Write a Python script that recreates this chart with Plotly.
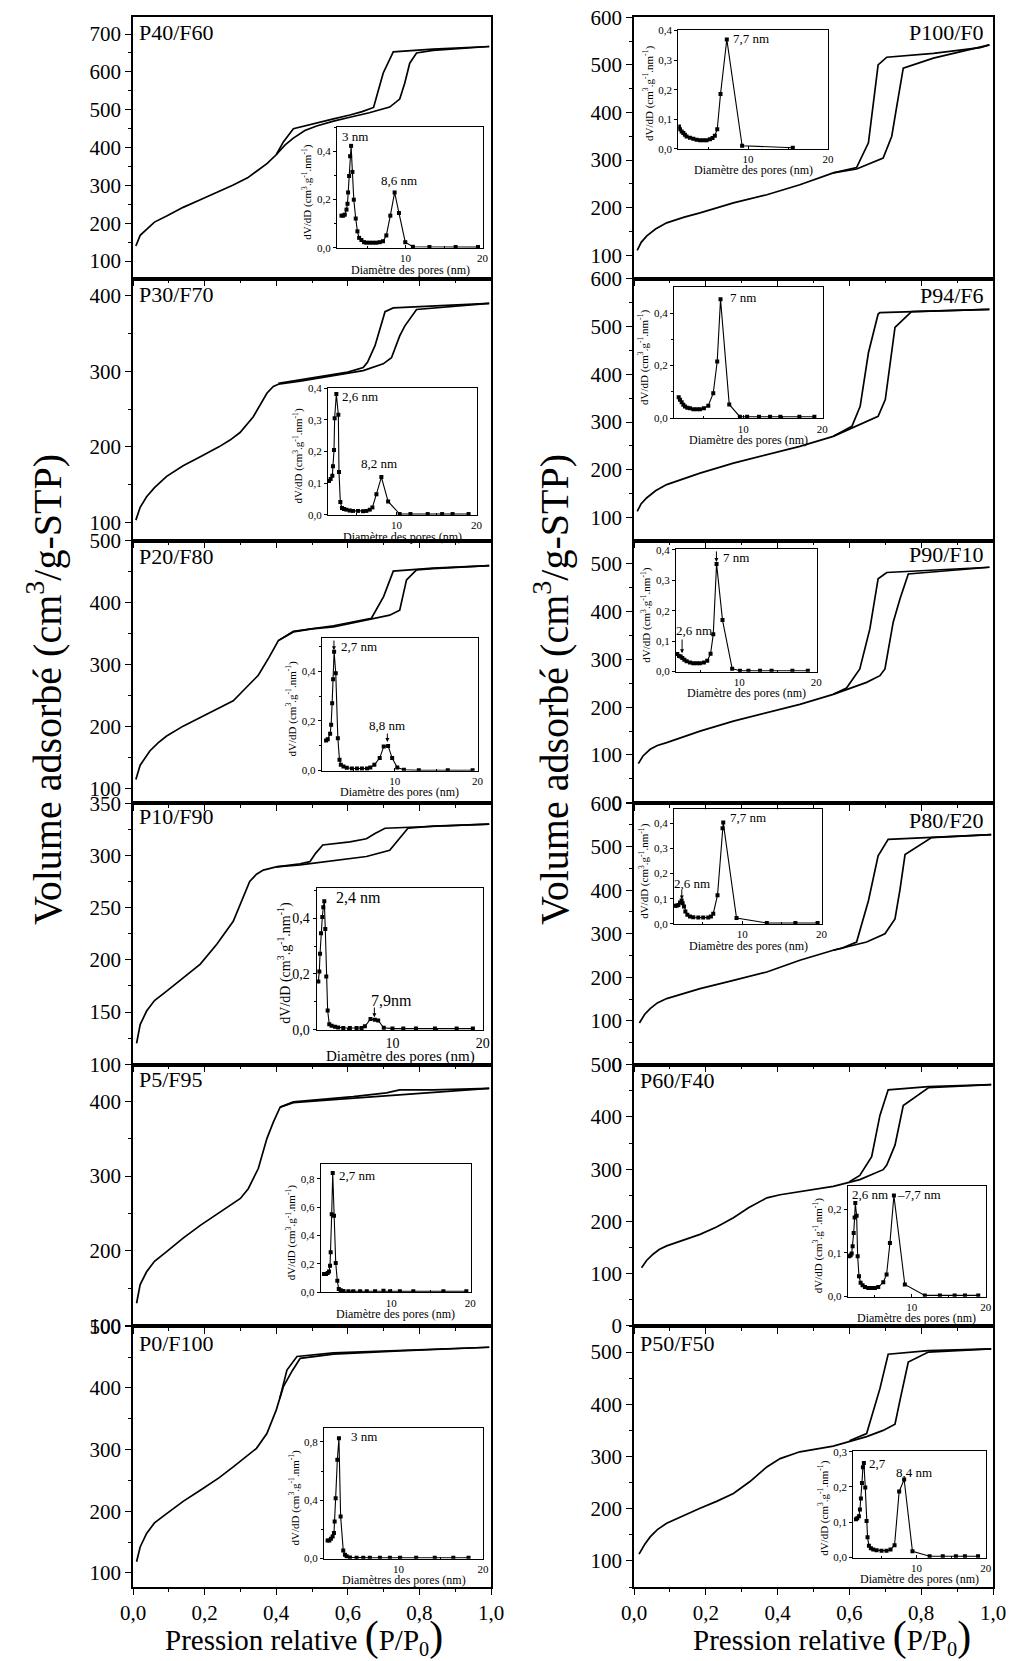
import plotly.graph_objects as go

# ------------------------------------------------------------------ data
# Isotherms: relative pressure (P/P0) and adsorbed volume (cm3/g STP)
P40F60_ads_p = [0.008, 0.02, 0.038, 0.06, 0.094, 0.14, 0.188, 0.24, 0.28, 0.32, 0.345, 0.375, 0.40, 0.425, 0.448, 0.48, 0.513, 0.56, 0.606, 0.66, 0.717, 0.745, 0.759, 0.773, 0.792, 0.838, 0.995]
P40F60_ads_v = [140, 168, 184, 203, 219, 242, 262, 283, 301, 320, 337, 358, 381, 407, 425, 445, 457, 470, 480, 492, 507, 528, 570, 623, 650, 657, 667]
P40F60_des_p = [0.995, 0.838, 0.727, 0.713, 0.699, 0.685, 0.672, 0.64, 0.606, 0.56, 0.513, 0.48, 0.448, 0.42, 0.40]
P40F60_des_v = [667, 660, 653, 625, 597, 550, 506, 495, 486, 476, 465, 458, 450, 415, 381]

P30F70_ads_p = [0.008, 0.02, 0.038, 0.06, 0.094, 0.14, 0.188, 0.24, 0.271, 0.299, 0.336, 0.374, 0.392, 0.406, 0.467, 0.56, 0.643, 0.699, 0.722, 0.745, 0.759, 0.792, 0.838, 0.995]
P30F70_ads_v = [103, 120, 134, 146, 161, 175, 187, 200, 209, 219, 240, 271, 280, 283, 287, 294, 301, 310, 318, 347, 360, 382, 384, 390]
P30F70_des_p = [0.995, 0.838, 0.727, 0.704, 0.69, 0.676, 0.655, 0.643, 0.6, 0.56, 0.467, 0.406]
P30F70_des_v = [390, 386, 384, 379, 355, 334, 312, 305, 299, 296, 289, 284]

P20F80_ads_p = [0.008, 0.02, 0.047, 0.07, 0.094, 0.14, 0.188, 0.24, 0.28, 0.326, 0.35, 0.38, 0.406, 0.448, 0.5, 0.56, 0.652, 0.717, 0.745, 0.755, 0.764, 0.792, 0.838, 0.995]
P20F80_ads_v = [115, 138, 161, 174, 185, 201, 215, 230, 242, 269, 283, 312, 339, 353, 358, 361, 372, 380, 388, 415, 437, 453, 455, 460]
P20F80_des_p = [0.995, 0.838, 0.727, 0.70, 0.666, 0.6, 0.56, 0.448, 0.406]
P20F80_des_v = [460, 456, 451, 410, 375, 367, 363, 354, 339]

P10F90_ads_p = [0.010, 0.02, 0.038, 0.06, 0.094, 0.14, 0.188, 0.234, 0.28, 0.326, 0.345, 0.364, 0.40, 0.467, 0.56, 0.652, 0.717, 0.745, 0.768, 0.838, 0.995]
P10F90_ads_v = [120, 138, 151, 161, 170, 183, 196, 215, 237, 275, 282, 286, 289, 291, 295, 299, 305, 317, 326, 328, 330]
P10F90_des_p = [0.995, 0.838, 0.704, 0.676, 0.652, 0.606, 0.53, 0.51, 0.494, 0.467, 0.40]
P10F90_des_v = [330, 328, 326, 321, 316, 313, 310, 302, 294, 292, 289]

P5F95_ads_p = [0.010, 0.02, 0.038, 0.06, 0.094, 0.14, 0.188, 0.24, 0.3, 0.322, 0.35, 0.374, 0.392, 0.411, 0.448, 0.56, 0.699, 0.745, 0.838, 0.995]
P5F95_ads_v = [130, 155, 172, 186, 199, 217, 234, 251, 270, 283, 310, 350, 372, 392, 398, 402, 407, 408, 412, 417]
P5F95_des_p = [0.995, 0.838, 0.745, 0.708, 0.615, 0.448, 0.411]
P5F95_des_v = [417, 415, 415, 411, 406, 399, 392]

P0F100_ads_p = [0.010, 0.02, 0.038, 0.06, 0.094, 0.14, 0.188, 0.24, 0.28, 0.345, 0.374, 0.40, 0.42, 0.445, 0.467, 0.56, 0.745, 0.995]
P0F100_ads_v = [118, 142, 164, 181, 196, 216, 234, 254, 272, 302, 326, 364, 402, 428, 448, 455, 460, 466]
P0F100_des_p = [0.995, 0.745, 0.56, 0.458, 0.43, 0.41]
P0F100_des_v = [466, 461, 457, 451, 429, 383]

P100F0_ads_p = [0.009, 0.02, 0.035, 0.06, 0.091, 0.14, 0.184, 0.277, 0.37, 0.462, 0.555, 0.62, 0.694, 0.718, 0.732, 0.75, 0.834, 0.927, 0.99]
P100F0_ads_v = [110, 127, 140, 155, 168, 180, 189, 210, 227, 248, 273, 281, 304, 350, 413, 493, 514, 531, 542]
P100F0_des_p = [0.99, 0.964, 0.834, 0.704, 0.68, 0.653, 0.62, 0.58, 0.555]
P100F0_des_v = [542, 536, 524, 516, 500, 336, 284, 277, 273]

P94F6_ads_p = [0.009, 0.02, 0.035, 0.06, 0.091, 0.14, 0.184, 0.277, 0.37, 0.462, 0.555, 0.648, 0.68, 0.70, 0.727, 0.773, 0.99]
P94F6_ads_v = [113, 129, 141, 156, 169, 182, 193, 214, 232, 249, 270, 302, 312, 347, 498, 531, 536]
P94F6_des_p = [0.99, 0.80, 0.685, 0.68, 0.653, 0.63, 0.607, 0.58, 0.555]
P94F6_des_v = [536, 532, 529, 526, 445, 333, 291, 280, 270]

P90F10_ads_p = [0.012, 0.025, 0.045, 0.065, 0.091, 0.14, 0.184, 0.277, 0.37, 0.462, 0.555, 0.648, 0.685, 0.699, 0.722, 0.741, 0.764, 0.85, 0.99]
P90F10_ads_v = [82, 98, 112, 120, 126, 139, 150, 171, 189, 206, 227, 252, 266, 280, 378, 427, 479, 484, 493]
P90F10_des_p = [0.99, 0.80, 0.704, 0.68, 0.657, 0.629, 0.592, 0.555]
P90F10_des_v = [493, 485, 482, 469, 364, 280, 240, 227]

P80F20_ads_p = [0.015, 0.03, 0.045, 0.065, 0.091, 0.14, 0.184, 0.277, 0.37, 0.462, 0.555, 0.648, 0.699, 0.727, 0.741, 0.755, 0.829, 0.995]
P80F20_ads_v = [95, 115, 128, 141, 151, 164, 174, 193, 212, 239, 262, 281, 300, 334, 402, 482, 521, 528]
P80F20_des_p = [0.995, 0.85, 0.708, 0.68, 0.653, 0.62, 0.58, 0.555]
P80F20_des_v = [528, 522, 517, 479, 376, 281, 267, 262]

P60F40_ads_p = [0.021, 0.035, 0.053, 0.07, 0.091, 0.14, 0.184, 0.23, 0.277, 0.319, 0.37, 0.407, 0.462, 0.555, 0.629, 0.694, 0.704, 0.727, 0.75, 0.82, 0.995]
P60F40_ads_v = [111, 125, 137, 146, 153, 165, 175, 189, 207, 226, 245, 251, 257, 267, 280, 299, 308, 346, 422, 456, 462]
P60F40_des_p = [0.995, 0.82, 0.708, 0.685, 0.662, 0.629, 0.6]
P60F40_des_v = [462, 458, 452, 403, 324, 288, 276]

P50F50_ads_p = [0.014, 0.03, 0.045, 0.065, 0.091, 0.14, 0.184, 0.23, 0.277, 0.323, 0.37, 0.407, 0.462, 0.555, 0.648, 0.694, 0.727, 0.741, 0.764, 0.82, 0.995]
P50F50_ads_v = [113, 132, 146, 160, 172, 188, 201, 214, 229, 252, 280, 296, 309, 320, 338, 350, 362, 408, 481, 500, 506]
P50F50_des_p = [0.995, 0.82, 0.708, 0.685, 0.648, 0.6]
P50F50_des_v = [506, 503, 496, 430, 344, 330]

# Pore size distributions: pore diameter (nm) and dV/dD
P40F60_psd_d = [1.68, 1.9, 2.11, 2.33, 2.46, 2.54, 2.67, 2.80, 2.93, 3.10, 3.28, 3.53, 3.75, 3.97, 4.27, 4.61, 4.91, 5.34, 5.78, 6.21, 6.64, 7.07, 7.5, 8.02, 8.58, 9.14, 9.96, 10.95, 13.1, 16.5, 19.4]
P40F60_psd_y = [0.133, 0.133, 0.137, 0.158, 0.182, 0.229, 0.297, 0.379, 0.422, 0.314, 0.199, 0.121, 0.068, 0.041, 0.032, 0.023, 0.021, 0.021, 0.021, 0.021, 0.023, 0.027, 0.051, 0.133, 0.229, 0.144, 0.023, 0.004, 0.003, 0.003, 0.003]

P30F70_psd_d = [1.58, 1.79, 2.0, 2.08, 2.21, 2.29, 2.5, 2.75, 2.83, 3.0, 3.2, 3.46, 3.75, 4.17, 4.58, 5.2, 5.83, 6.25, 6.67, 7.0, 7.5, 8.12, 8.96, 10.4, 11.75, 13.9, 15.7, 17.0, 19.0]
P30F70_psd_y = [0.107, 0.113, 0.123, 0.153, 0.205, 0.305, 0.382, 0.316, 0.135, 0.04, 0.021, 0.018, 0.016, 0.013, 0.012, 0.012, 0.011, 0.012, 0.016, 0.023, 0.065, 0.119, 0.042, 0.002, 0.002, 0.002, 0.002, 0.002, 0.002]

P20F80_psd_d = [1.7, 1.9, 2.19, 2.31, 2.43, 2.55, 2.67, 2.87, 3.12, 3.32, 3.48, 3.8, 4.2, 4.82, 5.43, 6.03, 6.64, 7.04, 7.53, 8.18, 8.66, 9.19, 9.68, 10.3, 11.1, 12.9, 16.4, 19.4]
P20F80_psd_y = [0.121, 0.126, 0.148, 0.184, 0.271, 0.368, 0.479, 0.392, 0.13, 0.043, 0.023, 0.016, 0.011, 0.008, 0.008, 0.008, 0.008, 0.012, 0.023, 0.05, 0.097, 0.099, 0.05, 0.012, 0.003, 0.001, 0.001, 0.001]

P10F90_psd_d = [1.8, 1.91, 1.99, 2.1, 2.24, 2.35, 2.46, 2.57, 2.68, 2.83, 3.01, 3.27, 3.64, 4.0, 4.56, 5.29, 6.03, 6.58, 6.95, 7.57, 8.05, 8.42, 9.04, 10.0, 11.2, 12.6, 14.7, 17.1, 18.9]
P10F90_psd_y = [0.173, 0.209, 0.272, 0.346, 0.404, 0.439, 0.461, 0.361, 0.191, 0.069, 0.02, 0.014, 0.011, 0.008, 0.006, 0.006, 0.006, 0.006, 0.012, 0.038, 0.036, 0.033, 0.007, 0.004, 0.004, 0.004, 0.004, 0.004, 0.004]

P5F95_psd_d = [1.52, 1.77, 1.98, 2.15, 2.28, 2.36, 2.49, 2.62, 2.78, 3.0, 3.2, 3.38, 3.63, 3.97, 4.6, 5.23, 6.08, 6.92, 7.97, 9.03, 9.87, 11.1, 12.8, 16.6, 19.5]
P5F95_psd_y = [0.127, 0.127, 0.134, 0.146, 0.186, 0.282, 0.551, 0.842, 0.539, 0.205, 0.08, 0.021, 0.012, 0.007, 0.005, 0.005, 0.005, 0.005, 0.005, 0.009, 0.005, 0.005, 0.005, 0.005, 0.005]

P0F100_psd_d = [1.61, 1.81, 2.0, 2.2, 2.36, 2.44, 2.56, 2.76, 2.95, 3.15, 3.46, 3.66, 3.86, 4.25, 5.04, 5.83, 6.61, 7.8, 8.98, 10.2, 12.1, 14.3, 16.5, 18.3]
P0F100_psd_y = [0.123, 0.123, 0.135, 0.151, 0.174, 0.254, 0.414, 0.677, 0.825, 0.288, 0.055, 0.025, 0.014, 0.007, 0.005, 0.005, 0.005, 0.005, 0.005, 0.005, 0.005, 0.005, 0.005, 0.005]

P100F0_psd_d = [1.33, 1.46, 1.67, 1.88, 2.08, 2.29, 2.71, 3.13, 3.54, 3.96, 4.38, 4.79, 5.21, 5.54, 5.83, 6.13, 6.54, 7.33, 9.25, 15.6]
P100F0_psd_y = [0.075, 0.066, 0.058, 0.053, 0.047, 0.041, 0.037, 0.034, 0.03, 0.029, 0.029, 0.029, 0.032, 0.036, 0.044, 0.066, 0.185, 0.37, 0.01, 0.003]

P94F6_psd_d = [1.85, 2.02, 2.23, 2.44, 2.65, 2.94, 3.28, 3.7, 4.12, 4.54, 5.04, 5.59, 6.22, 6.72, 7.14, 8.24, 9.58, 10.5, 12.0, 13.4, 14.7, 17.1, 19.0]
P94F6_psd_y = [0.079, 0.07, 0.06, 0.051, 0.044, 0.039, 0.037, 0.034, 0.034, 0.034, 0.037, 0.047, 0.095, 0.216, 0.453, 0.052, 0.005, 0.005, 0.005, 0.005, 0.005, 0.005, 0.005]

P90F10_psd_d = [1.98, 2.2, 2.41, 2.63, 2.89, 3.19, 3.62, 4.05, 4.48, 4.91, 5.43, 5.86, 6.29, 6.64, 7.07, 7.84, 9.09, 10.1, 11.2, 12.7, 14.2, 16.9, 18.9]
P90F10_psd_y = [0.057, 0.051, 0.049, 0.044, 0.038, 0.033, 0.029, 0.027, 0.027, 0.027, 0.029, 0.035, 0.058, 0.122, 0.354, 0.169, 0.009, 0.002, 0.002, 0.002, 0.002, 0.002, 0.002]

P80F20_psd_d = [1.55, 1.76, 1.97, 2.18, 2.38, 2.51, 2.68, 2.85, 3.1, 3.43, 3.85, 4.48, 5.1, 5.73, 6.07, 6.36, 6.9, 7.53, 7.62, 9.29, 13.1, 16.7, 19.5]
P80F20_psd_y = [0.072, 0.072, 0.075, 0.085, 0.093, 0.082, 0.069, 0.049, 0.036, 0.029, 0.026, 0.025, 0.025, 0.025, 0.029, 0.04, 0.114, 0.38, 0.403, 0.023, 0.003, 0.003, 0.003]

P60F40_psd_d = [1.53, 1.71, 1.85, 1.98, 2.12, 2.25, 2.34, 2.52, 2.66, 2.84, 3.06, 3.33, 3.65, 4.1, 4.55, 5.0, 5.45, 6.13, 6.58, 7.03, 7.57, 9.05, 11.76, 13.8, 15.8, 17.2, 19.0]
P60F40_psd_y = [0.092, 0.094, 0.098, 0.115, 0.145, 0.181, 0.214, 0.185, 0.092, 0.046, 0.031, 0.025, 0.021, 0.019, 0.019, 0.019, 0.021, 0.032, 0.05, 0.122, 0.231, 0.027, 0.002, 0.002, 0.002, 0.002, 0.002]

P50F50_psd_d = [1.25, 1.44, 1.68, 1.83, 1.97, 2.12, 2.26, 2.4, 2.6, 2.79, 2.93, 3.13, 3.41, 3.75, 4.23, 4.95, 5.67, 6.25, 6.83, 7.5, 8.22, 9.42, 11.9, 13.8, 15.7, 17.0, 18.9]
P50F50_psd_y = [0.108, 0.111, 0.117, 0.136, 0.167, 0.211, 0.256, 0.268, 0.198, 0.103, 0.057, 0.033, 0.026, 0.022, 0.02, 0.019, 0.019, 0.022, 0.034, 0.187, 0.221, 0.017, 0.003, 0.003, 0.003, 0.003, 0.003]

# ------------------------------------------------------------------ layout helpers
W, H = 1010, 1661
ROWS = [17, 278.5, 540.5, 803, 1064.5, 1326, 1587]
COLS = [(133, 491), (634, 993)]
FONT = "Liberation Serif, Times New Roman, serif"


def fx(px):
    return px / W


def fy(py):
    return 1 - py / H


# name, col, row, isotherm arrays, y-range, major dtick, minor dtick, label side, label y(px)
panels = [
    ("P40/F60", 0, 0, P40F60_ads_p, P40F60_ads_v, P40F60_des_p, P40F60_des_v, [54, 745], 100, 50, "left", 33),
    ("P30/F70", 0, 1, P30F70_ads_p, P30F70_ads_v, P30F70_des_p, P30F70_des_v, [76, 423], 100, 50, "left", 294),
    ("P20/F80", 0, 2, P20F80_ads_p, P20F80_ads_v, P20F80_des_p, P20F80_des_v, [77, 500.5], 100, 50, "left", 556),
    ("P10/F90", 0, 3, P10F90_ads_p, P10F90_ads_v, P10F90_des_p, P10F90_des_v, [99.8, 350.2], 50, 25, "left", 817),
    ("P5/F95", 0, 4, P5F95_ads_p, P5F95_ads_v, P5F95_des_p, P5F95_des_v, [99.6, 449], 100, 50, "left", 1079),
    ("P0/F100", 0, 5, P0F100_ads_p, P0F100_ads_v, P0F100_des_p, P0F100_des_v, [77, 500.5], 100, 50, "left", 1343),
    ("P100/F0", 1, 0, P100F0_ads_p, P100F0_ads_v, P100F0_des_p, P100F0_des_v, [51, 600.5], 100, 50, "right", 32),
    ("P94/F6", 1, 1, P94F6_ads_p, P94F6_ads_v, P94F6_des_p, P94F6_des_v, [52, 600.5], 100, 50, "right", 295),
    ("P90/F10", 1, 2, P90F10_ads_p, P90F10_ads_v, P90F10_des_p, P90F10_des_v, [-0.5, 549], 100, 50, "right", 555),
    ("P80/F20", 1, 3, P80F20_ads_p, P80F20_ads_v, P80F20_des_p, P80F20_des_v, [-0.5, 600.5], 100, 50, "right", 820),
    ("P60/F40", 1, 4, P60F40_ads_p, P60F40_ads_v, P60F40_des_p, P60F40_des_v, [-0.5, 500.5], 100, 50, "left", 1080),
    ("P50/F50", 1, 5, P50F50_ads_p, P50F50_ads_v, P50F50_des_p, P50F50_des_v, [50, 550], 100, 50, "left", 1343),
]

# inset: psd arrays, box (x0, x1, y0, y1 px), x-range, y-range, y dtick, y minor, x title, font size, labels, arrows
insets = [
    (P40F60_psd_d, P40F60_psd_y, (337, 483, 127, 248), [1.1, 20.05], [-0.001, 0.5], 0.2, 0.1,
     "Diamètre des pores (nm)", 11, [("3 nm", 3.4, 0.459, "center"), ("8,6 nm", 9.2, 0.278, "center")], []),
    (P30F70_psd_d, P30F70_psd_y, (328, 477, 387.7, 515), [1.46, 20.05], [-0.001, 0.402], 0.1, None,
     "Diamètre des pores (nm)", 11, [("2,6 nm", 2.9, 0.374, "left"), ("8,2 nm", 7.8, 0.161, "center")], []),
    (P20F80_psd_d, P20F80_psd_y, (321.7, 478, 638.3, 770.7), [1.17, 20.05], [-0.001, 0.533], 0.2, 0.1,
     "Diamètre des pores (nm)", 11, [("2,7 nm", 3.2, 0.50, "left"), ("8,8 nm", 9.07, 0.18, "center")],
     [(2.65, 0.485, 2.65, 0.53), (9.1, 0.115, 9.1, 0.155)]),
    (P10F90_psd_d, P10F90_psd_y, (316.7, 483.3, 888.3, 1030), [1.62, 20.05], [-0.001, 0.507], 0.2, 0.1,
     "Diamètre des pores (nm)", 14, [("2,4 nm", 6.25, 0.474, "center"), ("7,9nm", 9.85, 0.104, "center")],
     [(8.0, 0.045, 8.0, 0.085)]),
    (P5F95_psd_d, P5F95_psd_y, (320.7, 470.7, 1164.3, 1292.3), [1.1, 20.05], [-0.002, 0.904], 0.2, None,
     "Diamètre des pores (nm)", 11, [("2,7 nm", 3.2, 0.824, "left")], []),
    (P0F100_psd_d, P0F100_psd_y, (324, 483.3, 1427.7, 1558.7), [1.18, 20.05], [-0.002, 0.898], 0.4, 0.2,
     "Diamètres des pores (nm)", 11, [("3 nm", 4.17, 0.837, "left")], []),
    (P100F0_psd_d, P100F0_psd_y, (678.3, 828.3, 30, 149), [1.25, 20.05], [-0.001, 0.402], 0.1, None,
     "Diamètre des pores (nm)", 11, [("7,7 nm", 7.83, 0.372, "left")], []),
    (P94F6_psd_d, P94F6_psd_y, (674, 822.7, 287.3, 418.3), [1.26, 20.05], [-0.001, 0.499], 0.2, 0.1,
     "Diamètre des pores (nm)", 11, [("7 nm", 8.1, 0.461, "left")], []),
    (P90F10_psd_d, P90F10_psd_y, (676, 816.7, 549.3, 671.7), [1.81, 20.05], [-0.001, 0.402], 0.1, None,
     "Diamètre des pores (nm)", 11, [("7 nm", 7.6, 0.376, "left"), ("2,6 nm", 4.1, 0.136, "center")],
     [(7.05, 0.36, 7.05, 0.40), (2.6, 0.06, 2.6, 0.11)]),
    (P80F20_psd_d, P80F20_psd_y, (674, 822, 809.3, 924), [1.42, 20.05], [-0.001, 0.456], 0.1, None,
     "Diamètre des pores (nm)", 11, [("7,7 nm", 8.16, 0.424, "left"), ("2,6 nm", 3.73, 0.162, "center")],
     [(2.4, 0.097, 2.4, 0.14)]),
    (P60F40_psd_d, P60F40_psd_y, (847.7, 986, 1186, 1296.7), [1.31, 20.05], [-0.001, 0.253], 0.1, None,
     "Diamètre des pores (nm)", 11, [("2,6 nm", 1.62, 0.234, "left"), ("–7,7 nm", 7.7, 0.234, "left")], []),
    (P50F50_psd_d, P50F50_psd_y, (853.3, 986, 1451, 1557.7), [0.87, 20.05], [-0.001, 0.302], 0.1, None,
     "Diamètre des pores (nm)", 11, [("2,7", 2.79, 0.267, "left"), ("8,4 nm", 9.6, 0.242, "center")], []),
]

fig = go.Figure()
annotations = []
layout = {}

for i, (name, col, row, ap, av, dp, dv, yr, dt, mdt, side, ly) in enumerate(panels):
    n = i + 1
    xa, ya = f"x{n}", f"y{n}"
    for px_, vy_ in ((ap, av), (dp, dv)):
        fig.add_trace(go.Scatter(x=px_, y=vy_, xaxis=xa, yaxis=ya, mode="lines",
                                 line=dict(color="black", width=1.7), hoverinfo="skip"))
    x0, x1 = COLS[col]
    yt, yb = ROWS[row], ROWS[row + 1]
    layout[f"xaxis{n}"] = dict(
        domain=[fx(x0), fx(x1)], anchor=ya, range=[0, 1], tick0=0, dtick=0.2, automargin=False,
        tickformat=".1f", showticklabels=(row == 5), ticks="outside", ticklen=6,
        tickwidth=1.3, tickcolor="black", minor=dict(dtick=0.1, ticks="outside", ticklen=3, tickcolor="black"),
        showline=True, linecolor="black", linewidth=1.6, mirror=True, showgrid=False, zeroline=False,
        tickfont=dict(family=FONT, size=21, color="black"))
    layout[f"yaxis{n}"] = dict(
        domain=[fy(yb), fy(yt)], anchor=xa, range=yr, tick0=0, dtick=dt, automargin=False,
        ticks="outside", ticklen=6, tickwidth=1.3, tickcolor="black",
        minor=dict(dtick=mdt, ticks="outside", ticklen=3, tickcolor="black"),
        showline=True, linecolor="black", linewidth=1.6, mirror=True, showgrid=False, zeroline=False,
        tickfont=dict(family=FONT, size=21, color="black"))
    if side == "left":
        annotations.append(dict(text=name, xref="paper", yref="paper", x=fx(x0 + 4), y=fy(ly),
                                xanchor="left", yanchor="middle", showarrow=False,
                                font=dict(family=FONT, size=22, color="black")))
    else:
        annotations.append(dict(text=name, xref="paper", yref="paper", x=fx(x1 - 7), y=fy(ly),
                                xanchor="right", yanchor="middle", showarrow=False,
                                font=dict(family=FONT, size=22, color="black")))

for j, (dd, yy, box, xr, yr, ydt, ymin, xtitle, fs, labels, arrows) in enumerate(insets):
    n = 13 + j
    xa, ya = f"x{n}", f"y{n}"
    fig.add_trace(go.Scatter(x=dd, y=yy, xaxis=xa, yaxis=ya, mode="lines+markers",
                             line=dict(color="black", width=1.1),
                             marker=dict(symbol="square", size=4, color="black"), hoverinfo="skip"))
    bx0, bx1, by0, by1 = box
    layout[f"xaxis{n}"] = dict(
        domain=[fx(bx0), fx(bx1)], anchor=ya, range=xr, tick0=0, dtick=10, ticks="inside", automargin=False,
        ticklen=3, tickcolor="black", minor=dict(dtick=5, ticks="inside", ticklen=2, tickcolor="black"),
        showline=True, linecolor="black", linewidth=1.1, mirror=True, showgrid=False, zeroline=False,
        tickfont=dict(family=FONT, size=fs, color="black"))
    yax = dict(
        domain=[fy(by1), fy(by0)], anchor=xa, range=yr, tick0=0, dtick=ydt, tickformat=".1f",
        ticks="outside", ticklen=3, tickcolor="black", automargin=False,
        showline=True, linecolor="black", linewidth=1.1, mirror=True, showgrid=False, zeroline=False,
        tickfont=dict(family=FONT, size=fs, color="black"))
    if ymin:
        yax["minor"] = dict(dtick=ymin, ticks="outside", ticklen=2, tickcolor="black")
    layout[f"yaxis{n}"] = yax
    # inset axis titles
    annotations.append(dict(text=xtitle, xref="paper", yref="paper", x=fx((bx0 + bx1) / 2),
                            y=fy(by1 + 21.5 + (fs - 11) * 1.6), xanchor="center", yanchor="middle",
                            showarrow=False, font=dict(family=FONT, size=fs + 1, color="black")))
    annotations.append(dict(text="dV/dD (cm<sup>3</sup>.g<sup>-1</sup>.nm<sup>-1</sup>)", xref="paper",
                            yref="paper", x=fx(bx0 - 21 - fs * 0.8), y=fy((by0 + by1) / 2 + 4),
                            xanchor="center", yanchor="middle", textangle=-90, showarrow=False,
                            font=dict(family=FONT, size=fs, color="black")))
    for (txt, lx, lyv, anc) in labels:
        annotations.append(dict(text=txt, xref=xa, yref=ya, x=lx, y=lyv, xanchor=anc, yanchor="middle",
                                showarrow=False, font=dict(family=FONT, size=fs + 2, color="black")))
    for (hx, hy, tx, ty) in arrows:
        annotations.append(dict(text="", xref=xa, yref=ya, x=hx, y=hy, axref=xa, ayref=ya, ax=tx, ay=ty,
                                showarrow=True, arrowhead=2, arrowsize=0.8, arrowwidth=1, arrowcolor="black"))

# axis titles
xt = ('Pression relative <span style="font-size:42px">(</span>P/P<sub>0</sub>'
      '<span style="font-size:42px">)</span>')
for cx in (304, 832):
    annotations.append(dict(text=xt, xref="paper", yref="paper", x=fx(cx), y=fy(1636),
                            xanchor="center", yanchor="middle", showarrow=False,
                            font=dict(family=FONT, size=29, color="black")))
yt_ = "Volume adsorbé (cm<sup>3</sup>/g-STP)"
for cx in (44, 551):
    annotations.append(dict(text=yt_, xref="paper", yref="paper", x=fx(cx), y=fy(690),
                            xanchor="center", yanchor="middle", textangle=-90, showarrow=False,
                            font=dict(family=FONT, size=40, color="black")))

fig.update_layout(width=W, height=H, margin=dict(l=0, r=0, t=0, b=0, pad=0, autoexpand=False),
                  showlegend=False, paper_bgcolor="white", plot_bgcolor="white", separators=", ",
                  annotations=annotations, **layout)

fig.write_html("out.html", config={"displayModeBar": False},
               post_script="document.body.style.margin='0';document.body.style.padding='0';")
